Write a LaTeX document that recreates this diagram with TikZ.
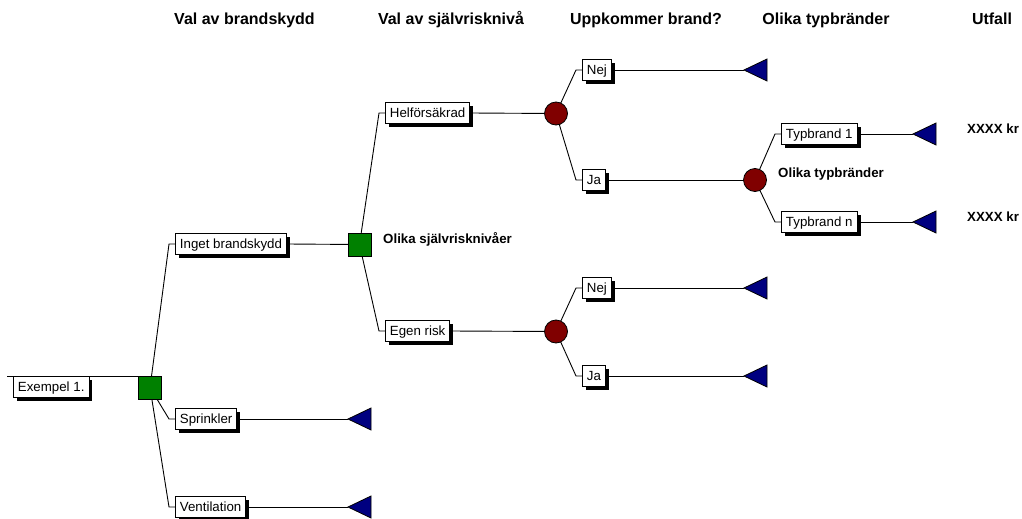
\documentclass[tikz,border=0pt]{standalone}
\usepackage{fontspec}
\setmainfont{Liberation Sans}
\usetikzlibrary{shadows,calc,backgrounds}
\definecolor{dgreen}{RGB}{0,128,0}
\definecolor{dred}{RGB}{128,0,0}
\definecolor{dnavy}{RGB}{0,0,128}
\begin{document}
\begin{tikzpicture}[x=1pt,y=-1pt,
  lbl/.style={draw=black, fill=white, line width=0.9pt, inner xsep=4.5pt, inner ysep=0pt,
    minimum height=21pt, text height=9.5pt, text depth=0pt,
    font=\fontsize{13.3}{15}\selectfont,
    drop shadow={shadow xshift=3.5pt, shadow yshift=-3.5pt, fill=black, opacity=1},
    anchor=west},
  hdr/.style={font=\fontsize{16}{19}\selectfont\bfseries, anchor=base, inner sep=0pt},
  note/.style={font=\fontsize{13.3}{15}\selectfont\bfseries, anchor=base west, inner sep=0pt},
  dec/.style={draw=black, fill=dgreen, minimum size=23pt, inner sep=0pt, line width=0.8pt},
  chance/.style={circle, draw=black, fill=dred, minimum size=23pt, inner sep=0pt, line width=0.8pt},
  edge/.style={line width=0.9pt},
  tri/.style={draw=black, fill=dnavy, line width=0.8pt, line join=miter}
]
\useasboundingbox (0,0) rectangle (1022,519);

% headers
\node[hdr] (h1) at (244.5,25) {Val av brandskydd};
\node[hdr] (h2) at (451,25) {Val av självrisknivå};
\node[hdr] (h3) at (646,25) {Uppkommer brand?};
\node[hdr] (h4) at (826,25) {Olika typbränder};
\node[hdr] (h5) at (992,25) {Utfall};

% root
\coordinate (root) at (7,376);
\node[lbl, anchor=north west] (ex) at (13,376) {Exempel 1.};
\node[dec] (sq1) at (150,387.5) {};

% level 1
\node[lbl] (inget) at (175,244) {Inget brandskydd};
\node[lbl] (spr) at (175,419) {Sprinkler};
\node[lbl] (vent) at (175,507) {Ventilation};
\node[dec] (sq2) at (359.5,244.5) {};
\node[note] (n1) at (383,243) {Olika självrisknivåer};

% level 2
\node[lbl] (helf) at (385,113) {Helförsäkrad};
\node[lbl] (egen) at (385,331) {Egen risk};
\node[chance] (c1) at (556,113.5) {};
\node[chance] (c2) at (556,331.5) {};

% level 3
\node[lbl] (nej1) at (582,70) {Nej};
\node[lbl] (ja1) at (582,180) {Ja};
\node[lbl] (nej2) at (582,288) {Nej};
\node[lbl] (ja2) at (582,376) {Ja};
\node[chance] (c3) at (755,180) {};
\node[note] (n2) at (778,177) {Olika typbränder};

% level 4
\node[lbl] (typ1) at (781,134) {Typbrand 1};
\node[lbl] (typn) at (781,222) {Typbrand n};
\node[note] (x1) at (967,133) {XXXX kr};
\node[note] (x2) at (967,221) {XXXX kr};

% terminal triangles
\coordinate (tspr) at (348,419);
\coordinate (tvent) at (348,507);
\coordinate (tnej1) at (744,70);
\coordinate (tnej2) at (744,288);
\coordinate (tja2) at (744,376);
\coordinate (ttyp1) at (913,134);
\coordinate (ttypn) at (913,222);
\foreach \t in {tspr,tvent,tnej1,tnej2,tja2,ttyp1,ttypn}
  \draw[tri] (\t) -- ++(23,-11) -- ++(0,22) -- cycle;

\begin{scope}[on background layer]
  \draw[edge] (root) -- (root -| sq1);
  \draw[edge] (sq1.center) -- ($(inget.west)+(-6,0)$) -- (inget.west);
  \draw[edge] (sq1.center) -- ($(spr.west)+(-6,0)$) -- (spr.west);
  \draw[edge] (sq1.center) -- ($(vent.west)+(-6,0)$) -- (vent.west);
  \draw[edge] (inget.east) -- (sq2.center);
  \draw[edge] (spr.east) -- (tspr);
  \draw[edge] (vent.east) -- (tvent);
  \draw[edge] (sq2.center) -- ($(helf.west)+(-6,0)$) -- (helf.west);
  \draw[edge] (sq2.center) -- ($(egen.west)+(-6,0)$) -- (egen.west);
  \draw[edge] (helf.east) -- (c1.center);
  \draw[edge] (egen.east) -- (c2.center);
  \draw[edge] (c1.center) -- ($(nej1.west)+(-6,0)$) -- (nej1.west);
  \draw[edge] (c1.center) -- ($(ja1.west)+(-6,0)$) -- (ja1.west);
  \draw[edge] (c2.center) -- ($(nej2.west)+(-6,0)$) -- (nej2.west);
  \draw[edge] (c2.center) -- ($(ja2.west)+(-6,0)$) -- (ja2.west);
  \draw[edge] (nej1.east) -- (tnej1);
  \draw[edge] (ja1.east) -- (c3.center);
  \draw[edge] (nej2.east) -- (tnej2);
  \draw[edge] (ja2.east) -- (tja2);
  \draw[edge] (c3.center) -- ($(typ1.west)+(-6,0)$) -- (typ1.west);
  \draw[edge] (c3.center) -- ($(typn.west)+(-6,0)$) -- (typn.west);
  \draw[edge] (typ1.east) -- (ttyp1);
  \draw[edge] (typn.east) -- (ttypn);
\end{scope}
\end{tikzpicture}
\end{document}
